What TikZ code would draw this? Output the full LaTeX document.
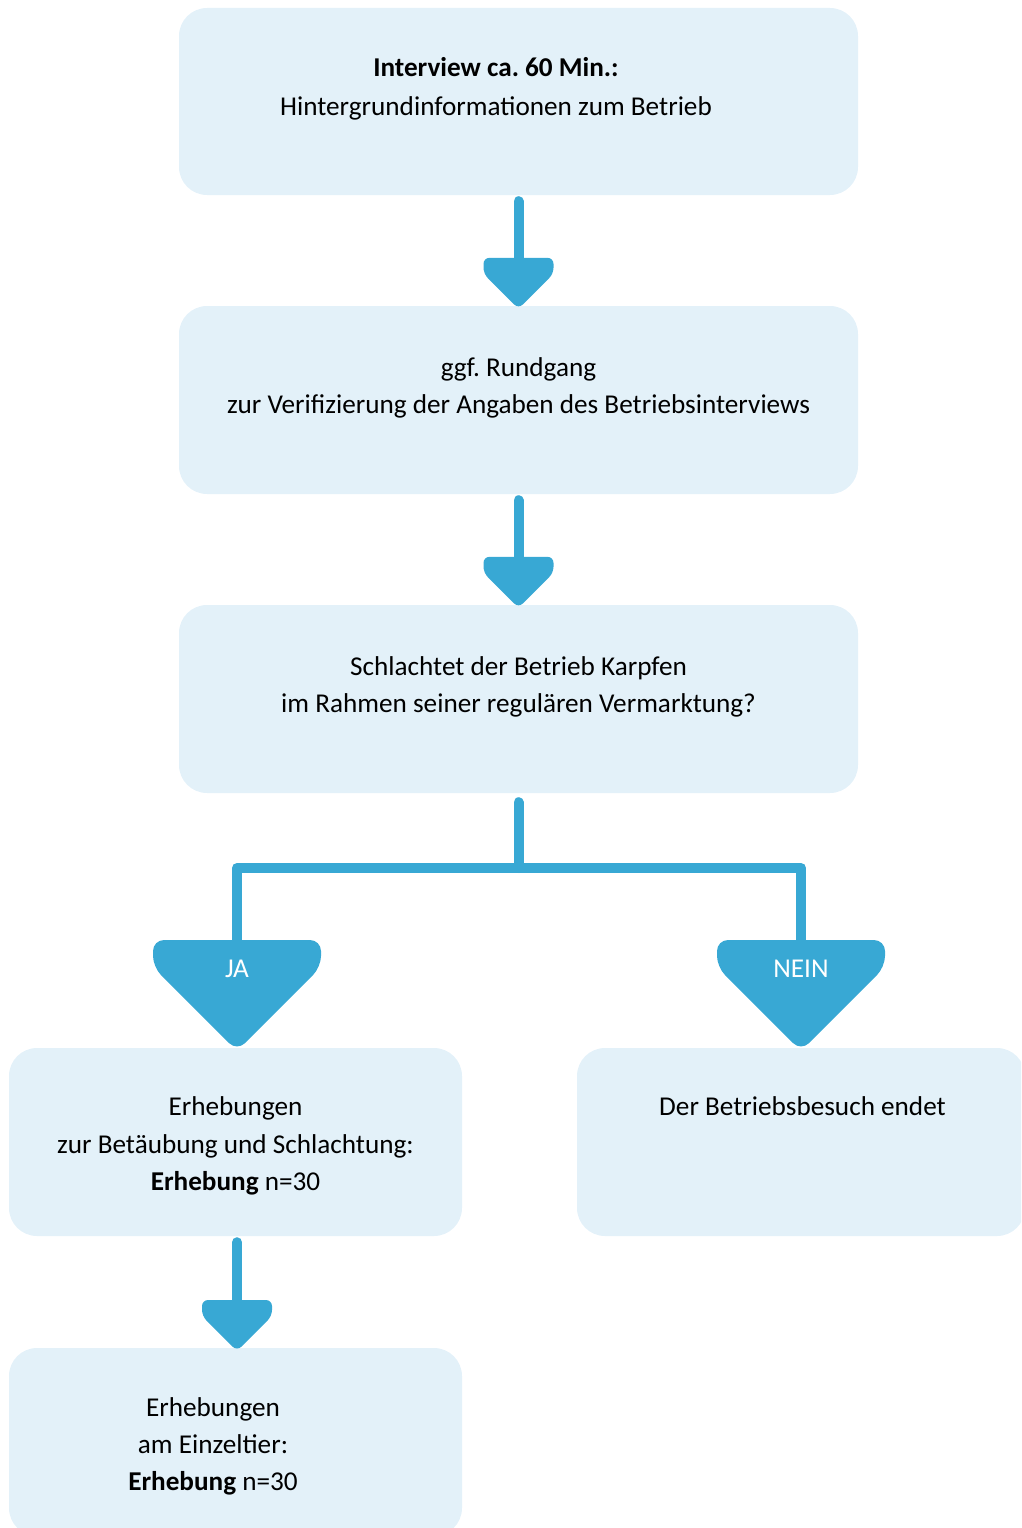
\documentclass[tikz,border=0pt]{standalone}
\usepackage{fontspec}
\setmainfont{Carlito}
\usetikzlibrary{calc}
\definecolor{boxc}{HTML}{E3F1F9}
\definecolor{acol}{HTML}{38A8D4}
\frenchspacing
\begin{document}
\begin{tikzpicture}[x=1pt,y=-1pt,
  box/.style={fill=boxc, rounded corners=28pt, inner sep=0pt, draw=none},
  txt/.style={anchor=base, inner sep=0pt, font=\fontsize{27.2}{33}\selectfont},
  lbl/.style={txt, text=white},
  conn/.style={draw=acol, line width=10pt, line cap=round, line join=round}]
\useasboundingbox (0,0) rectangle (1021,1528);
\clip (0,0) rectangle (1021,1528);
% boxes
\node[box, minimum width=679pt, minimum height=187pt] (b1) at (518.5,101.5) {};
\node[box, minimum width=679pt, minimum height=188pt] (b2) at (518.5,400) {};
\node[box, minimum width=679pt, minimum height=188pt] (b3) at (518.5,699) {};
\node[box, minimum width=453pt, minimum height=188pt] (b4) at (235.5,1142) {};
\node[box, minimum width=448pt, minimum height=188pt] (b5) at (801,1142) {};
\node[box, minimum width=453pt, minimum height=188pt] (b6) at (235.5,1442) {};
% texts
\node[txt] (t1a) at (496,77) {\textbf{Interview ca. 60 Min.:}};
\node[txt] (t1b) at (496,115) {Hintergrundinformationen zum Betrieb};
\node[txt] (t2a) at (518.5,376) {ggf. Rundgang};
\node[txt] (t2b) at (518.5,413) {zur Verifizierung der Angaben des Betriebsinterviews};
\node[txt] (t3a) at (518.5,675) {Schlachtet der Betrieb Karpfen};
\node[txt] (t3b) at (518.5,712) {im Rahmen seiner regulären Vermarktung?};
\node[txt] (t4a) at (235.5,1115) {Erhebungen};
\node[txt] (t4b) at (235.5,1153) {zur Betäubung und Schlachtung:};
\node[txt] (t4c) at (235.5,1190) {\textbf{Erhebung} n=30};
\node[txt] (t5a) at (802.5,1115) {Der Betriebsbesuch endet};
\node[txt] (t6a) at (213,1416) {Erhebungen};
\node[txt] (t6b) at (213,1453) {am Einzeltier:};
\node[txt] (t6c) at (213,1490) {\textbf{Erhebung} n=30};
% tip coordinates (rounded tips just touch the box below)
\coordinate (h1) at ([yshift=-3pt]b2.north);
\coordinate (h2) at ([yshift=-3pt]b3.north);
\coordinate (jtip) at (237,1051);
\coordinate (ntip) at (801,1051);
\coordinate (h3) at (237,1351);
\coordinate (split) at (518.5,868);
% shafts
\draw[conn] ([yshift=-6pt]b1.south) -- ($(h1)+(0,-40)$);
\draw[conn] ([yshift=-6pt]b2.south) -- ($(h2)+(0,-40)$);
\draw[conn] ([yshift=-9pt]b3.south) -- (split);
\draw[conn] ($(jtip)+(0,-100)$) -- ($(jtip)+(0,-183)$) -- ($(ntip)+(0,-183)$) -- ($(ntip)+(0,-100)$);
\draw[conn] ([yshift=-6pt]b4.south -| h3) -- ($(h3)+(0,-40)$);
% small heads
\foreach \h in {h1,h2,h3}{
  \begin{scope}[shift={(\h)}]
    \fill[acol, rounded corners=6pt] (0,-51) -- (35,-51) -- (35,-35) -- (0,0) -- (-35,-35) -- (-35,-51) -- cycle;
  \end{scope}
}
% big heads
\foreach \h in {jtip,ntip}{
  \begin{scope}[shift={(\h)}]
    \fill[acol, rounded corners=11pt] (0,-111) -- (84,-111) -- (84,-84) -- (0,0) -- (-84,-84) -- (-84,-111) -- cycle;
  \end{scope}
}
\node[lbl] (ja) at (237,977) {JA};
\node[lbl] (nein) at (801,977) {NEIN};
\end{tikzpicture}
\end{document}
